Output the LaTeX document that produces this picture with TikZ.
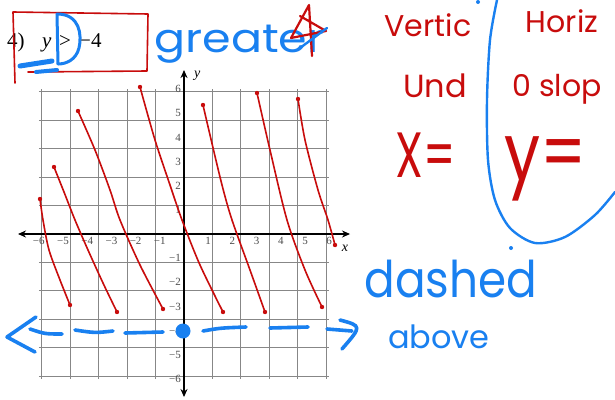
\documentclass[tikz,border=0pt]{standalone}
\usepackage{fontspec}
\setmainfont{Liberation Serif}
\newfontfamily\hand{Poppins}
\usetikzlibrary{arrows.meta}
\definecolor{penred}{RGB}{200,12,12}
\definecolor{penblue}{RGB}{25,128,240}
\definecolor{gridgray}{RGB}{135,135,135}
\tikzset{
  gridline/.style={draw=gridgray, line width=1.1pt},
  axisline/.style={draw=black, line width=1.2pt, {Stealth[length=8pt,width=7pt]}-{Stealth[length=8pt,width=7pt]}},
  ticklabel/.style={font=\fontsize{11}{12}\selectfont, text=black!70, inner sep=0.5pt},
  redpen/.style={draw=penred, line width=1.6pt, line cap=round, line join=round},
  bluepen/.style={draw=penblue, line width=2.4pt, line cap=round, line join=round},
  dashpen/.style={draw=penblue, line width=3.6pt, line cap=round, line join=round},
  redword/.style={text=penred, inner sep=0pt},
  blueword/.style={text=penblue, inner sep=0pt},
  headtext/.style={font=\fontsize{21}{24}\selectfont, inner sep=0pt, anchor=base west}
}
\begin{document}
\begin{tikzpicture}[x=1pt,y=-1pt]
\useasboundingbox (0,0) rectangle (615,399);
\fill[white] (0,0) rectangle (615,399);

% coordinate grid
\begin{scope}[shift={(184,234)}, x=24.2pt, y=24.15pt]
  \draw[gridline] (-6,-6) grid (6,6);
  \draw[axisline] (-6.86,0) -- (6.86,0);
  \draw[axisline] (0,-6.75) -- (0,6.79);
  \foreach \i/\t in {-6/−6,-5/−5,-4/−4,-3/−3,-2/−2,-1/−1,1/1,2/2,3/3,4/4,5/5,6/6}{
    \node[ticklabel, anchor=north] (xl\i) at (\i,-0.12) {\t};
    \node[ticklabel, anchor=east] (yl\i) at (-0.1,\i) {\t};
  }
  \node[font=\fontsize{14}{16}\selectfont\itshape, inner sep=0pt] (xlab) at (6.65,-0.6) {x};
  \node[font=\fontsize{14}{16}\selectfont\itshape, inner sep=0pt] (ylab) at (0.55,6.55) {y};
\end{scope}

% red shading strokes
\draw[redpen] plot[smooth] coordinates {(40,199) (43,220) (49,250) (60,280) (70,305)};
\draw[redpen] plot[smooth] coordinates {(54,167) (64,192) (75,220) (88,250) (103,283) (117,312)};
\draw[redpen] plot[smooth] coordinates {(78,111) (95,150) (110,190) (120,220) (140,265) (163,309)};
\draw[redpen] plot[smooth] coordinates {(140,87) (155,140) (170,185) (182,220) (200,265) (223,312)};
\draw[redpen] plot[smooth] coordinates {(203,105) (210,135) (222,185) (232,220) (250,270) (265,312)};
\draw[redpen] plot[smooth] coordinates {(257,93) (270,150) (287,220) (305,270) (322,307)};
\draw[redpen] plot[smooth] coordinates {(298,99) (305,140) (318,190) (328,220) (335,245)};
\foreach \p in {(40,199),(54,167),(78,111),(140,87),(203,105),(257,93),(298,99),(70,305),(117,312),(163,309),(223,312),(265,312),(322,307),(335,245)}
  \fill[penred] \p circle (2.2pt);

% blue dashed boundary line y = -4
\draw[dashpen] (36,317) -- (7,337) -- (35,352);
\draw[dashpen] (30,329) .. controls (45,334) .. (62,334);
\draw[dashpen] (75,330) .. controls (95,333) .. (113,331);
\draw[dashpen] (125,333) -- (163,332);
\fill[penblue] (183,331) circle (7.5pt);
\draw[dashpen] (203,331) .. controls (220,328) .. (246,327);
\draw[dashpen] (270,328) -- (308,327);
\draw[dashpen] (327,329) -- (352,331);
\draw[dashpen] (340,320) .. controls (362,326) .. (342,349);

% header
\node[headtext] (num) at (7,47) {4)};
\node[headtext, font=\fontsize{21}{24}\selectfont\itshape] (yv) at (42,47) {y};
\node[headtext] (gt) at (59,47) {>};
\node[headtext] (rhs) at (79,47) {−4};

% red box around the header
\draw[redpen] (15,83) -- (13,12) -- (148,14) -- (147,71) -- (28,72);
% blue D and scribble
\draw[bluepen, line width=3pt] (57,14) -- (58,64);
\draw[bluepen, line width=3pt] (57,14) .. controls (80,14) and (82,35) .. (79,48) .. controls (76,60) and (66,64) .. (58,64);
\draw[bluepen, line width=5pt] (20,66) -- (52,61);
\draw[bluepen, line width=4pt] (36,72) -- (57,70);

% blue word greater and red star
\node[blueword, font=\hand\fontsize{40}{44}\selectfont, xscale=1.15, anchor=base west] (greater) at (154,52) {greater};
\draw[redpen, line width=2.2pt] (312,56) -- (309,5) -- (291,38) -- (326,31) -- (300,16);
\draw[bluepen] (300,48) -- (327,28);

% red notes
\node[redword, font=\hand\fontsize{30}{34}\selectfont, anchor=base] (vertic) at (428,36) {Vertic};
\node[redword, font=\hand\fontsize{30}{34}\selectfont, anchor=base] (horiz) at (562,32) {Horiz};
\node[redword, font=\hand\fontsize{32}{36}\selectfont, anchor=base] (und) at (435,97) {Und};
\node[redword, font=\hand\fontsize{30}{34}\selectfont, anchor=base] (slop) at (557,96) {0 slop};
\node[redword, font=\hand\fontsize{64}{70}\selectfont, xscale=0.7, anchor=base] (xeq) at (426,177) {X=};
\node[redword, font=\hand\fontsize{80}{90}\selectfont, xscale=0.8, anchor=base] (yeq) at (546,180) {y=};

% blue bracket curve
\draw[bluepen] plot[smooth] coordinates {(497,0) (490,40) (487,100) (488,160) (495,200) (510,228) (535,243) (565,237) (595,215) (615,192)};
\fill[penblue] (478,2) circle (2pt);
\fill[penblue] (511,248) circle (2pt);

% blue notes
\node[blueword, font=\hand\fontsize{44}{48}\selectfont, xscale=1.03, yscale=1.15, anchor=base] (dashed) at (451,297) {dashed};
\node[blueword, font=\hand\fontsize{32}{36}\selectfont, anchor=base] (above) at (439,348) {above};
\end{tikzpicture}
\end{document}
